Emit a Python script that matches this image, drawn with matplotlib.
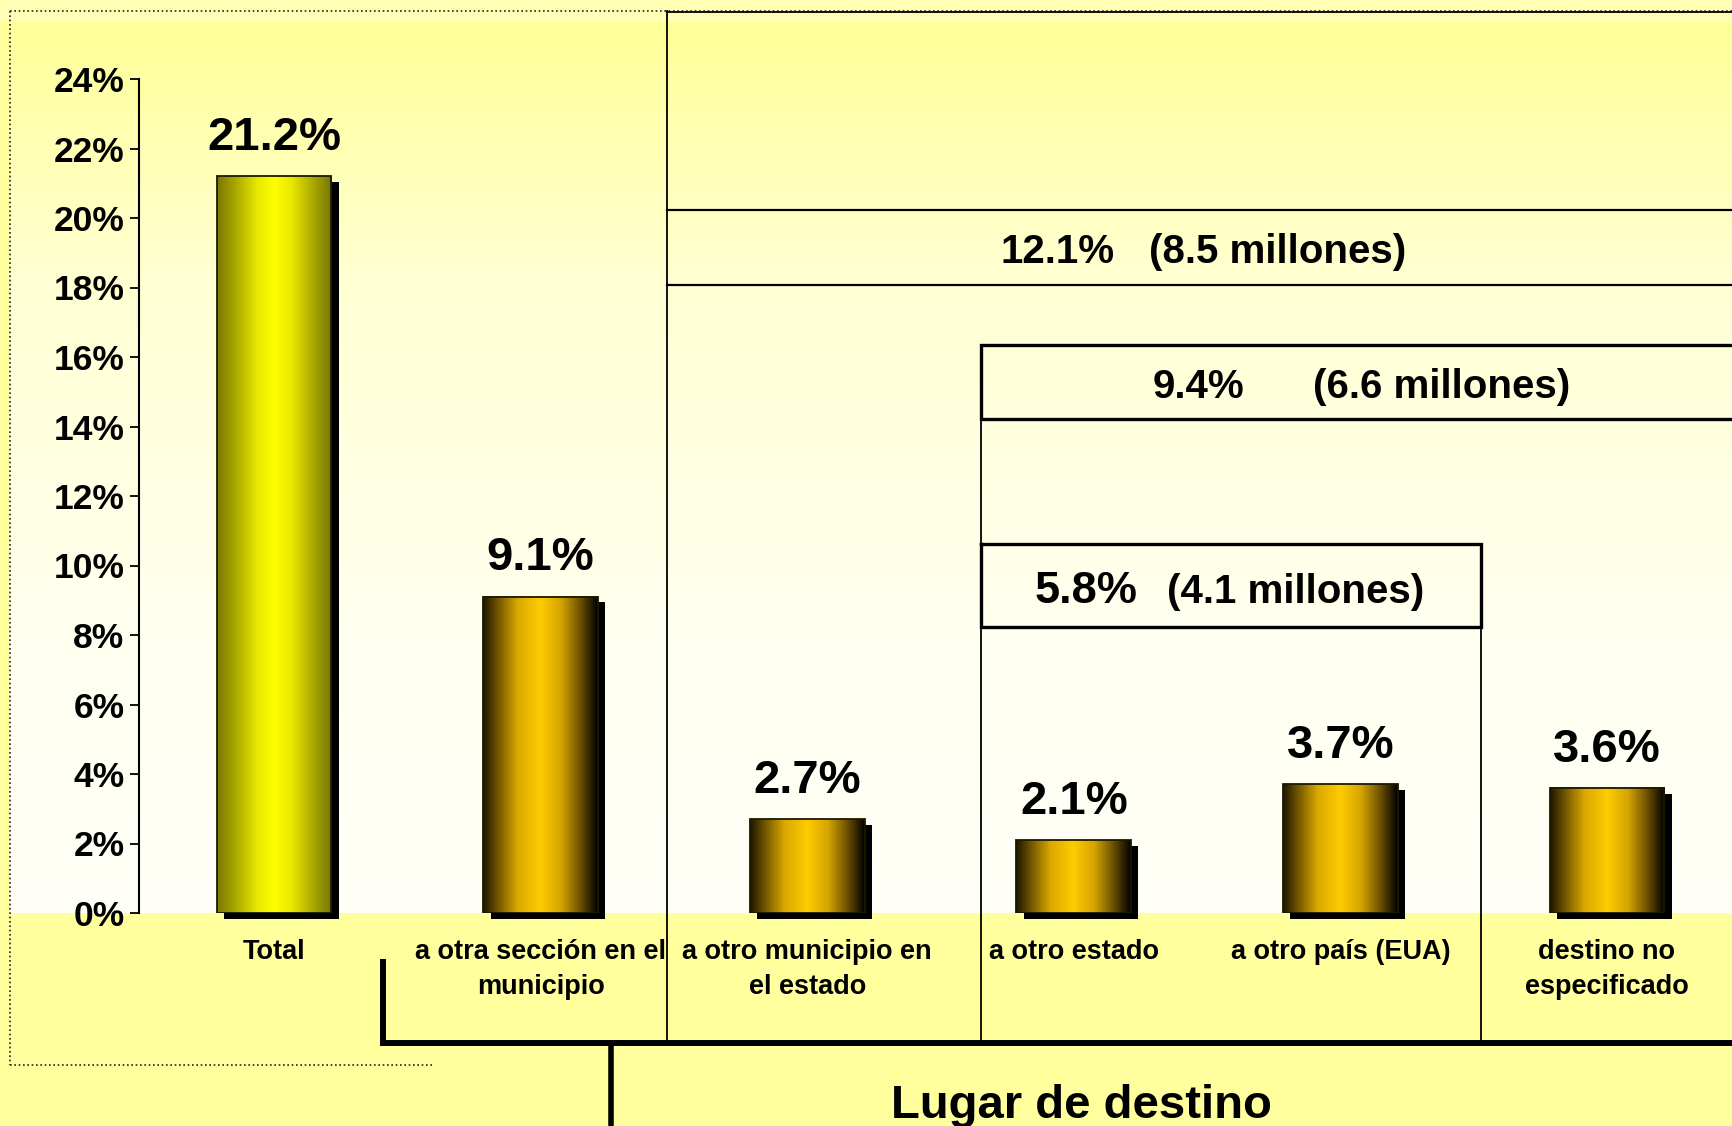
import numpy as np
import matplotlib
matplotlib.use("Agg")
import matplotlib.pyplot as plt
import matplotlib.transforms as mtransforms
from matplotlib.colors import LinearSegmentedColormap
from matplotlib.patches import Rectangle

plt.rcParams['font.family'] = ['Liberation Sans', 'DejaVu Sans']
plt.rcParams['font.weight'] = 'bold'

# data
categories = ["Total", "a otra sección en el\nmunicipio", "a otro municipio en\nel estado",
              "a otro estado", "a otro país (EUA)", "destino no\nespecificado"]
values = [21.2, 9.1, 2.7, 2.1, 3.7, 3.6]
value_labels = ["21.2%", "9.1%", "2.7%", "2.1%", "3.7%", "3.6%"]
yticks = list(range(0, 25, 2))
group_pcts = ["12.1%", "9.4%", "5.8%"]
group_counts = ["(8.5 millones)", "(6.6 millones)", "(4.1 millones)"]
axis_title = "Lugar de destino"

W, H = 1733, 1126
fig = plt.figure(figsize=(W / 100, H / 100), dpi=100, facecolor='#FFFF9E')

# background (pixel coordinates)
bg = fig.add_axes([0, 0, 1, 1], zorder=-10)
bg.add_patch(Rectangle((0, 0), W, 22, color='#FFFFB6', lw=0))
t = np.linspace(0, 1, 300)
blue = np.interp(t, [0, 0.3, 0.7, 1], [153, 212, 240, 248])
grad = np.ones((300, 1, 3))
grad[:, 0, 2] = blue / 255
bg.imshow(grad, extent=[10, W, 913, 22], aspect='auto', interpolation='bilinear')
dot = dict(color='#222222', lw=1.2, ls=(0, (1, 1.6)))
bg.plot([10, W], [11, 11], **dot)
bg.plot([10, 10], [11, 1065], **dot)
bg.plot([10, 432], [1065, 1065], **dot)
bg.set_xlim(0, W)
bg.set_ylim(H, 0)
bg.axis('off')

# main axes
ax = fig.add_axes([139 / W, 1 - 913 / H, 1 - 139 / W, (913 - 79) / H])
ax.set_facecolor('none')
x = np.arange(len(values))
bw = 0.43

cmap_total = LinearSegmentedColormap.from_list('tot', [
    (0, '#7a7800'), (0.15, '#a6a400'), (0.35, '#e8e800'), (0.5, '#ffff00'),
    (0.65, '#e8e800'), (0.85, '#a6a400'), (1, '#767600')])
cmap_gold = LinearSegmentedColormap.from_list('gold', [
    (0, '#1e1600'), (0.12, '#6b5000'), (0.3, '#d9a800'), (0.5, '#ffcc00'),
    (0.68, '#d4a400'), (0.85, '#6b5000'), (1, '#000000')])

# shadow
ax.bar(x + 0.0275, values, width=bw, bottom=-0.164, color='black', zorder=2, clip_on=False)
bars = ax.bar(x, values, width=bw, color='none', zorder=3)
ramp = np.linspace(0, 1, 256).reshape(1, -1)
for i, (b, v) in enumerate(zip(bars, values)):
    ax.imshow(ramp, cmap=cmap_total if i == 0 else cmap_gold,
              extent=[b.get_x(), b.get_x() + b.get_width(), 0, v],
              aspect='auto', interpolation='bilinear', zorder=3)
ax.bar(x, values, width=bw, facecolor='none', edgecolor='#1a1a00', lw=1.3, zorder=4)

for xi, v, lbl in zip(x, values, value_labels):
    ax.annotate(lbl, (xi, v), xytext=(0, 19), textcoords='offset points',
                ha='center', va='baseline', fontsize=34, fontweight='bold')

xl, xr = (139 - 274) / 266.6, (W - 274) / 266.6
ax.set_xlim(xl, xr)
ax.set_ylim(0, 24)
ax.set_yticks(yticks)
ax.set_yticklabels([f"{v}%" for v in yticks], fontsize=25.5, fontweight='bold')
ax.tick_params(axis='y', length=6.5, width=1.3, pad=4)
ax.set_xticks(x)
ax.set_xticklabels(categories, fontsize=19.5, fontweight='bold', linespacing=1.47)
ax.tick_params(axis='x', length=0, pad=18.5)
for s in ['top', 'right', 'bottom']:
    ax.spines[s].set_visible(False)
ax.spines['left'].set_linewidth(1.5)

# group boxes
tr = mtransforms.blended_transform_factory(ax.transData, ax.transAxes)


def ya(py):
    return (913 - py) / 834


def line(xs, ys, lw):
    ax.plot(xs, [ya(p) for p in ys], color='black', lw=lw, transform=tr,
            clip_on=False, solid_joinstyle='miter', solid_capstyle='projecting')


x_all, x_inter, x_us = 1.474, 2.652, 4.527
line([x_all, x_all], [11, 1041], 1.3)
line([x_all, xr], [12, 12], 1.3)
line([x_all, xr], [210, 210], 1.6)
line([x_all, xr], [285, 285], 1.6)
line([xr, x_inter, x_inter, xr], [345, 345, 419, 419], 2.4)
line([x_inter, x_inter], [419, 1041], 1.3)
line([x_inter, x_us, x_us, x_inter, x_inter], [544, 544, 627, 627, 544], 2.4)
line([x_us, x_us], [627, 1041], 1.3)
line([0.409, 0.409, xr], [962, 1043, 1043], 4.3)
line([1.264, 1.264], [1043, 1130], 4.0)

pct_x = [2.724, 3.296, 2.853]
count_x = [3.283, 3.897, 3.350]
base_y = [263, 398, 603]
pct_size = [29, 29, 32.5]
for px, cx, by, ps, p, c in zip(pct_x, count_x, base_y, pct_size, group_pcts, group_counts):
    ax.text(px, ya(by), p, transform=tr, ha='left', va='baseline', fontsize=ps)
    ax.text(cx, ya(by), c, transform=tr, ha='left', va='baseline', fontsize=29)
ax.text(3.027, ya(1118), axis_title, transform=tr, ha='center', va='baseline',
        fontsize=34, clip_on=False)

fig.savefig('out.png', dpi=100, facecolor=fig.get_facecolor())
